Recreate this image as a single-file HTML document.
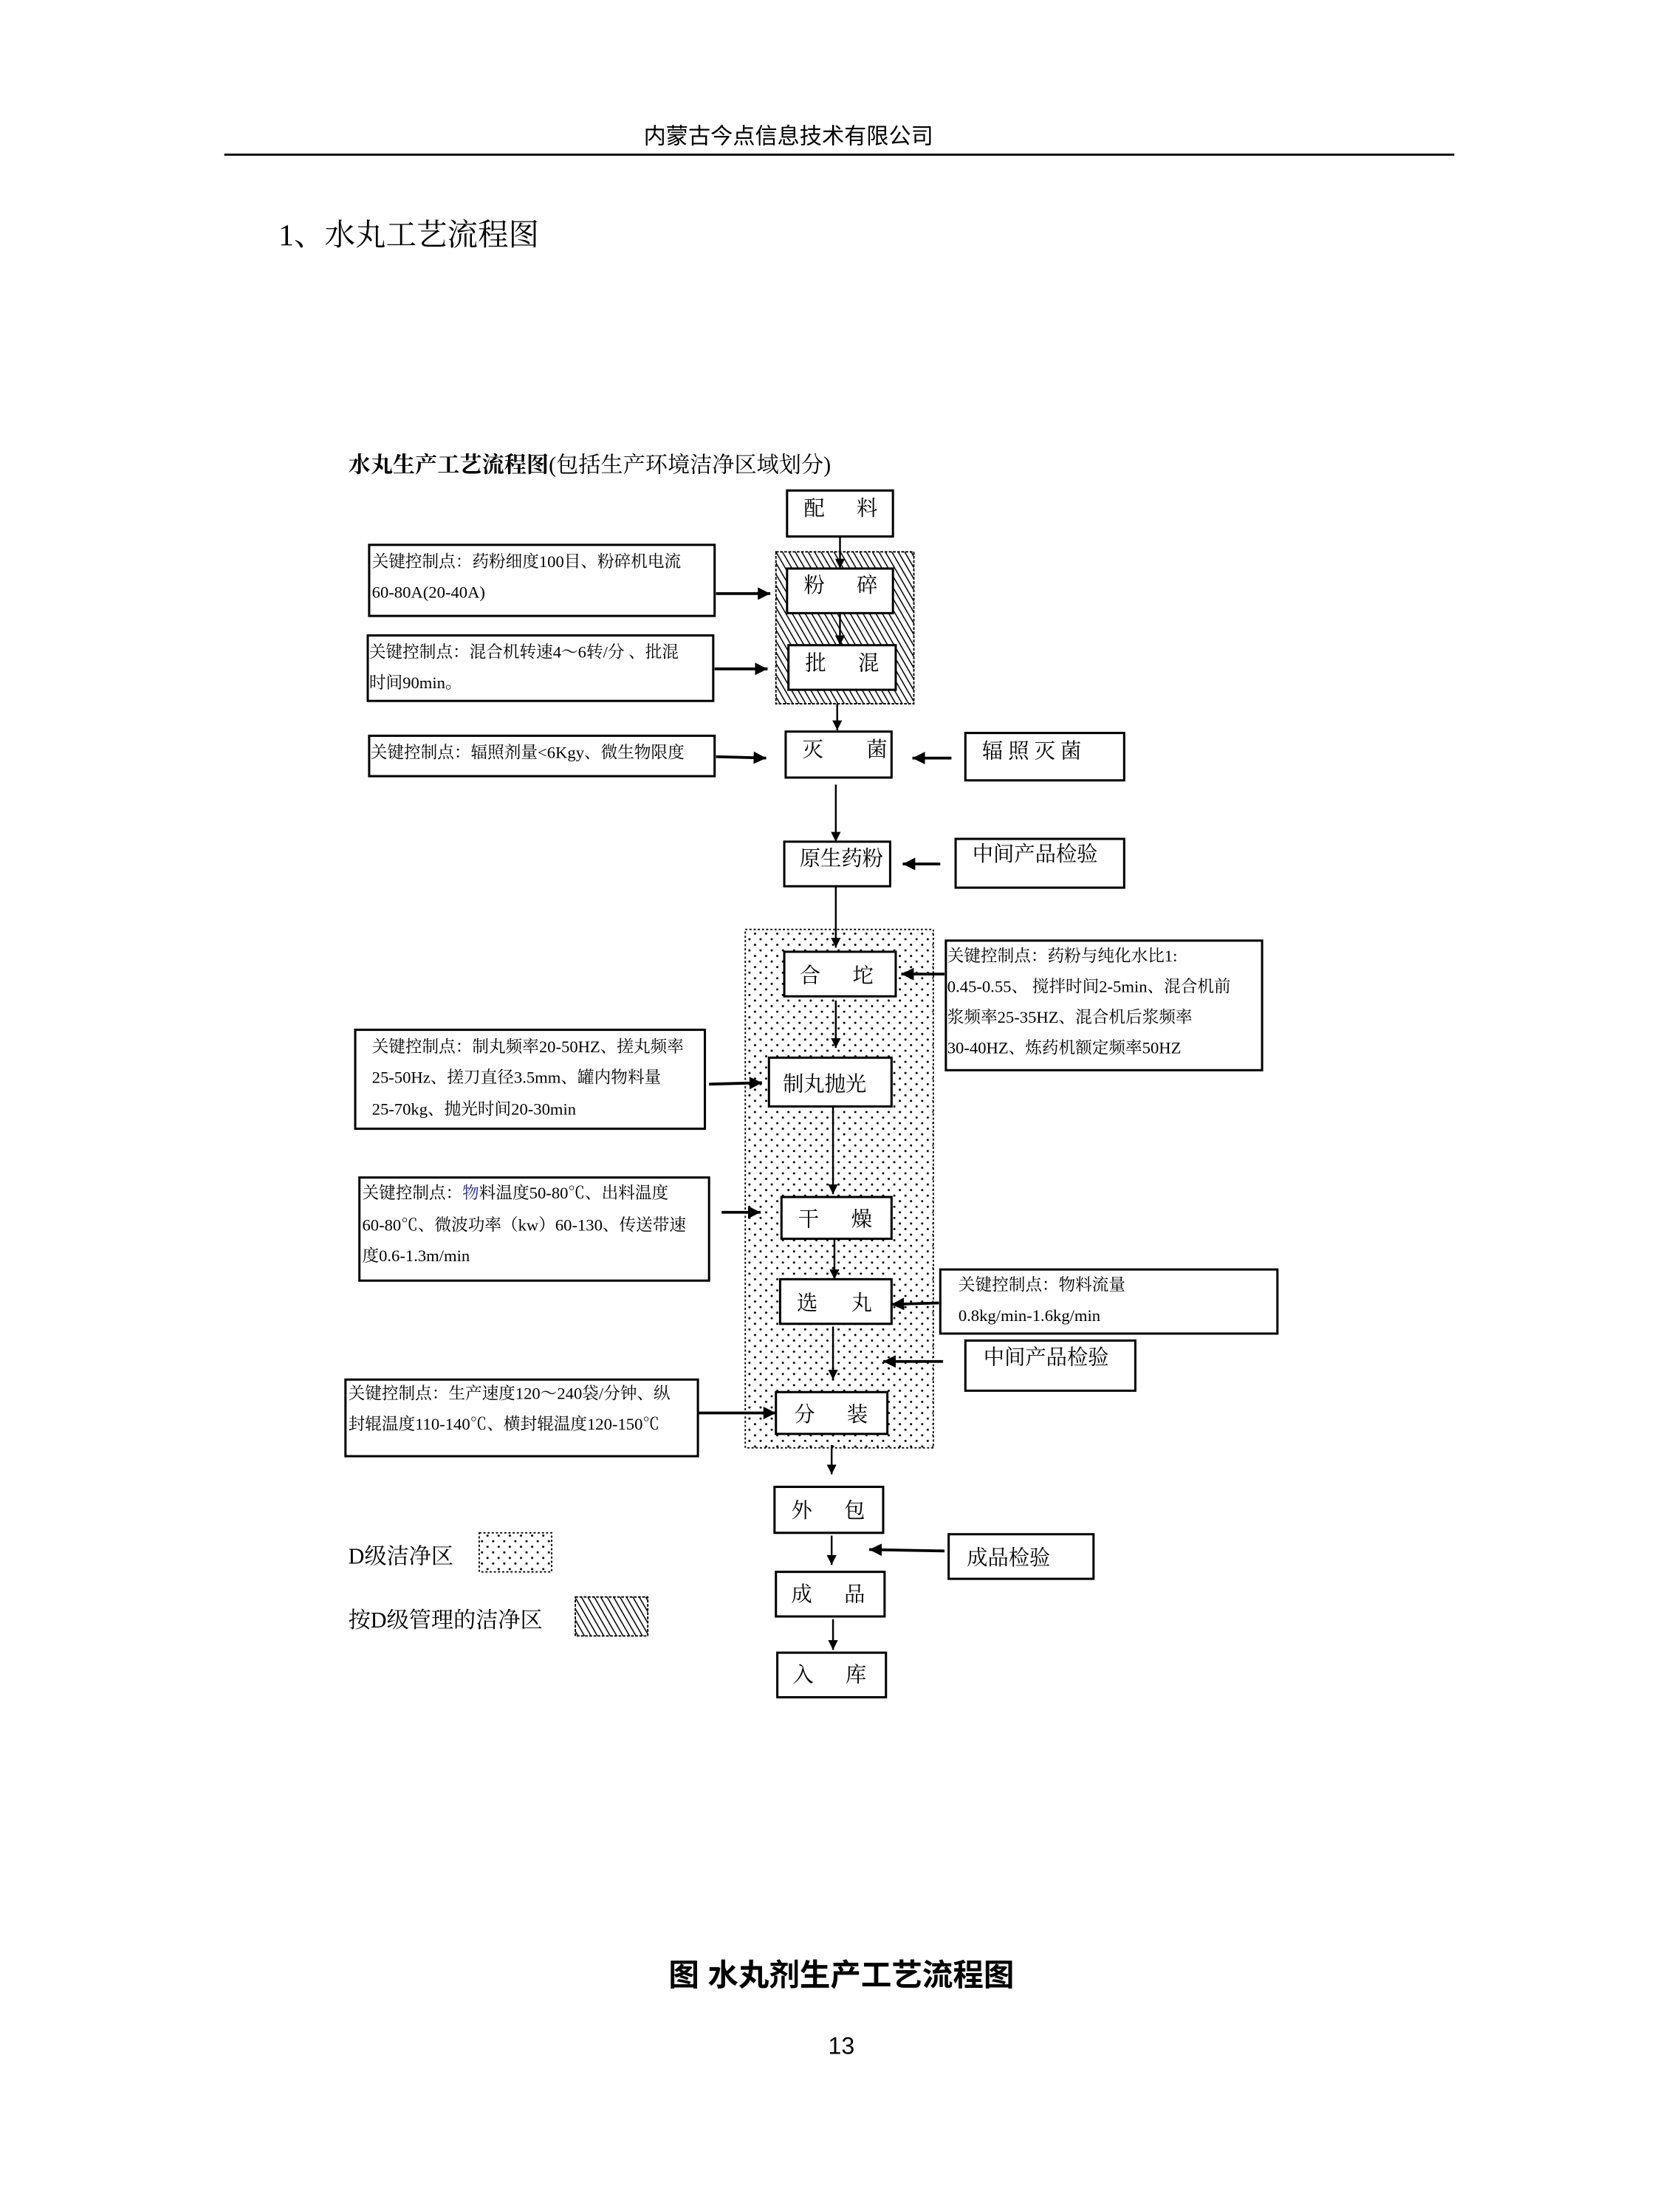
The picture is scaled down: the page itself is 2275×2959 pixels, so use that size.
<!DOCTYPE html>
<html><head><meta charset="utf-8"><style>
html,body{margin:0;padding:0;background:#fff}
svg{display:block}
.s{font-family:"Liberation Serif","Noto Serif CJK SC",serif;fill:#000}
.h{font-family:"Liberation Sans","Noto Sans CJK SC",sans-serif;fill:#000}
rect.b{fill:#fff;stroke:#000;stroke-width:1.6}
line.a{stroke:#000;stroke-width:1.3;marker-end:url(#ar)}
line.t{stroke:#000;stroke-width:2;marker-end:url(#ar2)}
</style></head><body>
<svg width="2275" height="2959" viewBox="0 0 1206 1568" preserveAspectRatio="none" xmlns="http://www.w3.org/2000/svg">
<defs>
<marker id="ar" viewBox="0 0 10 10" refX="10" refY="5" markerWidth="7" markerHeight="7" orient="auto" markerUnits="userSpaceOnUse"><path d="M0,0L10,5L0,10z" fill="#000"/></marker>
<marker id="ar2" viewBox="0 0 10 10" refX="10" refY="5" markerWidth="9" markerHeight="9" orient="auto" markerUnits="userSpaceOnUse"><path d="M0,0L10,5L0,10z" fill="#000"/></marker>
<pattern id="hatch" width="4" height="4" patternUnits="userSpaceOnUse" patternTransform="rotate(-30)"><rect width="4" height="4" fill="#fff"/><line x1="0" y1="0" x2="0" y2="4" stroke="#000" stroke-width="1.6"/></pattern>
<pattern id="dots" width="8" height="8" patternUnits="userSpaceOnUse"><rect width="8" height="8" fill="#fff"/><circle cx="2" cy="2" r="0.8" fill="#000"/><circle cx="6" cy="6" r="0.8" fill="#000"/></pattern>
</defs>
<rect width="1206" height="1568" fill="#fff"/>
<text class="h" x="566" y="103" font-size="16" text-anchor="middle">内蒙古今点信息技术有限公司</text>
<line x1="161" y1="111" x2="1044" y2="111" stroke="#000" stroke-width="1.5"/>
<text class="s" x="200" y="176" font-size="22">1、水丸工艺流程图</text>
<text class="s" x="250" y="339" font-size="16"><tspan font-weight="bold">水丸生产工艺流程图</tspan>(包括生产环境洁净区域划分)</text>

<rect x="557" y="396" width="99" height="109" fill="url(#hatch)" stroke="#000" stroke-width="1" stroke-dasharray="2 1"/>
<rect x="535" y="667" width="135" height="372" fill="url(#dots)" stroke="#000" stroke-width="1" stroke-dasharray="1.5 1.5"/>

<g font-size="15" class="s">
<rect class="b" x="565" y="352" width="76" height="33"/><text class="s" x="577" y="370">配</text><text class="s" x="615" y="370">料</text>
<rect class="b" x="565" y="408" width="76" height="32"/><text class="s" x="577" y="425">粉</text><text class="s" x="615" y="425">碎</text>
<rect class="b" x="566" y="463" width="77" height="32"/><text class="s" x="578" y="481">批</text><text class="s" x="616" y="481">混</text>
<rect class="b" x="564" y="525" width="76" height="33"/><text class="s" x="576" y="543">灭</text><text class="s" x="622" y="543">菌</text>
<rect class="b" x="693" y="526" width="114" height="34"/><text class="s" x="705" y="544">辐 照 灭 菌</text>
<rect class="b" x="563" y="604" width="76" height="32"/><text class="s" x="574" y="621">原生药粉</text>
<rect class="b" x="686" y="602" width="121" height="35"/><text class="s" x="698" y="618">中间产品检验</text>
<rect class="b" x="563" y="683" width="80" height="32"/><text class="s" x="574" y="705">合</text><text class="s" x="612" y="705">坨</text>
<rect class="b" x="552" y="759" width="88" height="35"/><text class="s" x="562" y="783">制丸抛光</text>
<rect class="b" x="561" y="859" width="79" height="30"/><text class="s" x="573" y="880">干</text><text class="s" x="611" y="880">燥</text>
<rect class="b" x="560" y="918" width="80" height="32"/><text class="s" x="572" y="940">选</text><text class="s" x="611" y="940">丸</text>
<rect class="b" x="693" y="962" width="122" height="36"/><text class="s" x="706" y="979">中间产品检验</text>
<rect class="b" x="557" y="999" width="80" height="30"/><text class="s" x="570" y="1020">分</text><text class="s" x="608" y="1020">装</text>
<rect class="b" x="556" y="1067" width="78" height="33"/><text class="s" x="568" y="1089">外</text><text class="s" x="606" y="1089">包</text>
<rect class="b" x="681" y="1101" width="104" height="32"/><text class="s" x="694" y="1123">成品检验</text>
<rect class="b" x="557" y="1128" width="78" height="32"/><text class="s" x="568" y="1149">成</text><text class="s" x="606" y="1149">品</text>
<rect class="b" x="558" y="1186" width="78" height="32"/><text class="s" x="569" y="1207">入</text><text class="s" x="607" y="1207">库</text>
</g>

<g font-size="12">
<rect class="b" x="265" y="391" width="248" height="51"/>
<text class="s" x="267" y="407">关键控制点：药粉细度100目、粉碎机电流</text>
<text class="s" x="267" y="429">60-80A(20-40A)</text>
<rect class="b" x="264" y="456" width="248" height="47"/>
<text class="s" x="265" y="472">关键控制点：混合机转速4～6转/分 、批混</text>
<text class="s" x="265" y="494">时间90min。</text>
<rect class="b" x="265" y="528" width="248" height="29"/>
<text class="s" x="266" y="544">关键控制点：辐照剂量&lt;6Kgy、微生物限度</text>
<rect class="b" x="679" y="675" width="227" height="93"/>
<text class="s" x="680" y="690">关键控制点：药粉与纯化水比1:</text>
<text class="s" x="680" y="712">0.45-0.55、 搅拌时间2-5min、混合机前</text>
<text class="s" x="680" y="734">浆频率25-35HZ、混合机后浆频率</text>
<text class="s" x="680" y="756">30-40HZ、炼药机额定频率50HZ</text>
<rect class="b" x="255" y="739" width="251" height="71"/>
<text class="s" x="267" y="755">关键控制点：制丸频率20-50HZ、搓丸频率</text>
<text class="s" x="267" y="777">25-50Hz、搓刀直径3.5mm、罐内物料量</text>
<text class="s" x="267" y="800">25-70kg、抛光时间20-30min</text>
<rect class="b" x="258" y="845" width="251" height="74"/>
<text class="s" x="260" y="860">关键控制点：<tspan fill="#2a2aa0">物</tspan>料温度50-80℃、出料温度</text>
<text class="s" x="260" y="883">60-80℃、微波功率（kw）60-130、传送带速</text>
<text class="s" x="260" y="905">度0.6-1.3m/min</text>
<rect class="b" x="675" y="911" width="242" height="46"/>
<text class="s" x="688" y="926">关键控制点：物料流量</text>
<text class="s" x="688" y="948">0.8kg/min-1.6kg/min</text>
<rect class="b" x="248" y="990" width="253" height="55"/>
<text class="s" x="250" y="1004">关键控制点：生产速度120～240袋/分钟、纵</text>
<text class="s" x="250" y="1026">封辊温度110-140℃、横封辊温度120-150℃</text>
</g>

<line class="a" x1="603" y1="385" x2="603" y2="408"/>
<line class="a" x1="603" y1="440" x2="603" y2="463"/>
<line class="a" x1="601" y1="505" x2="601" y2="524"/>
<line class="a" x1="600" y1="563" x2="600" y2="604"/>
<line class="a" x1="600" y1="636" x2="600" y2="680"/>
<line class="a" x1="600" y1="718" x2="600" y2="752"/>
<line class="a" x1="598" y1="794" x2="598" y2="857"/>
<line class="a" x1="599" y1="889" x2="599" y2="918"/>
<line class="a" x1="598" y1="952" x2="598" y2="990"/>
<line class="a" x1="597" y1="1037" x2="597" y2="1058"/>
<line class="a" x1="597" y1="1102" x2="597" y2="1123"/>
<line class="a" x1="598" y1="1162" x2="598" y2="1184"/>

<line class="t" x1="514" y1="426" x2="553" y2="426"/>
<line class="t" x1="513" y1="480" x2="551" y2="480"/>
<line class="t" x1="514" y1="543" x2="550" y2="544"/>
<line class="t" x1="683" y1="544" x2="655" y2="544"/>
<line class="t" x1="675" y1="620" x2="648" y2="620"/>
<line class="t" x1="678" y1="699" x2="647" y2="699"/>
<line class="t" x1="509" y1="778" x2="547" y2="777"/>
<line class="t" x1="518" y1="870" x2="546" y2="870"/>
<line class="t" x1="674" y1="935" x2="640" y2="936"/>
<line class="t" x1="677" y1="977" x2="634" y2="977"/>
<line class="t" x1="501" y1="1014" x2="557" y2="1014"/>
<line class="t" x1="678" y1="1113" x2="624" y2="1112"/>

<text class="s" x="250" y="1122" font-size="16">D级洁净区</text>
<rect x="344" y="1100" width="52" height="28" fill="url(#dots)" stroke="#000" stroke-width="1" stroke-dasharray="1.5 1.5"/>
<text class="s" x="250" y="1168" font-size="16">按D级管理的洁净区</text>
<rect x="413" y="1146" width="52" height="28" fill="url(#hatch)" stroke="#000" stroke-width="1" stroke-dasharray="2 1"/>

<text class="h" x="604" y="1425" font-size="22" font-weight="bold" text-anchor="middle">图  水丸剂生产工艺流程图</text>
<text class="h" x="604" y="1474" font-size="17" text-anchor="middle">13</text>
</svg>
</body></html>
